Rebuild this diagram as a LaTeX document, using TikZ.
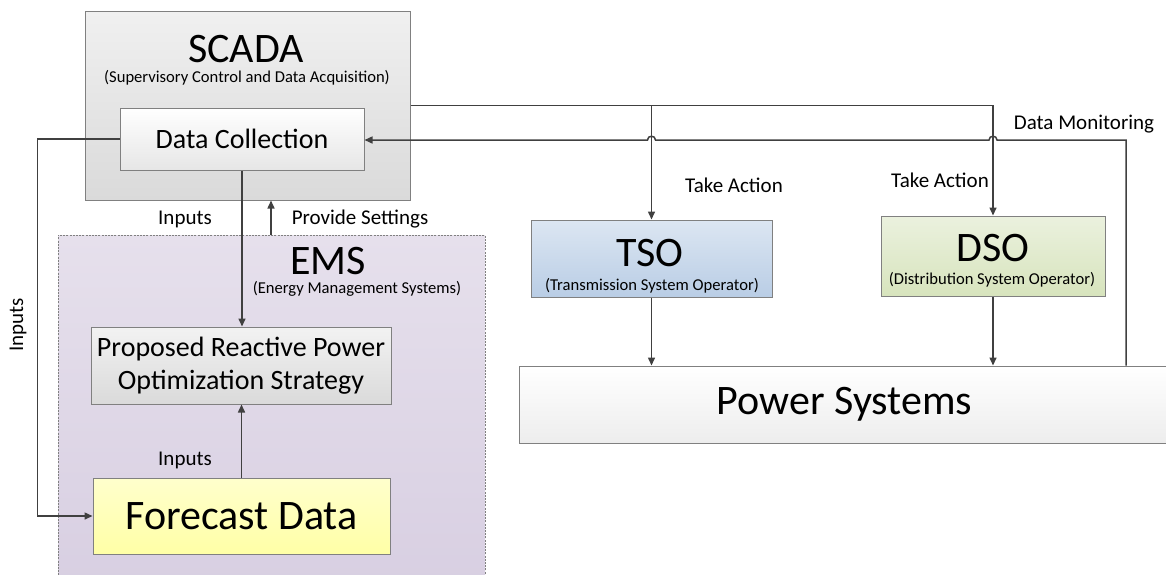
\documentclass[tikz,border=0pt]{standalone}
\usepackage{fontspec}
\setmainfont{Carlito}
\usetikzlibrary{arrows.meta,positioning,calc}

\definecolor{linegray}{HTML}{404040}
\definecolor{boxgray}{HTML}{808080}
\definecolor{scadatop}{HTML}{F0F0F0}
\definecolor{scadabot}{HTML}{DADADA}
\definecolor{dcbot}{HTML}{E6E6E6}
\definecolor{emstop}{HTML}{E6E0EC}
\definecolor{emsbot}{HTML}{D8CFE2}
\definecolor{proptop}{HTML}{F2F2F2}
\definecolor{propbot}{HTML}{DADADA}
\definecolor{fctop}{HTML}{FFFFCC}
\definecolor{fcbot}{HTML}{FFFFA6}
\definecolor{tsotop}{HTML}{DCE6F2}
\definecolor{tsobot}{HTML}{B9CDE5}
\definecolor{dsotop}{HTML}{EBF1DE}
\definecolor{dsobot}{HTML}{D7E4BD}
\definecolor{psbot}{HTML}{EDEDED}

\begin{document}
\begin{tikzpicture}[
    x=0.5pt, y=-0.5pt,
    box/.style={draw=boxgray, line width=0.5pt, inner sep=0pt},
    arr/.style={-{Triangle[length=4pt,width=3.5pt]}, draw=linegray, line width=0.75pt},
    lbl/.style={font=\fontsize{10.5}{12}\selectfont, inner sep=0pt, anchor=base},
    title/.style={font=\fontsize{21}{24}\selectfont, inner sep=0pt, anchor=base},
    sub/.style={font=\fontsize{8.3}{9}\selectfont, inner sep=0pt, anchor=base},
    mid/.style={font=\fontsize{14}{16.5}\selectfont, align=center},
    big/.style={font=\fontsize{21}{24}\selectfont},
  ]
  \useasboundingbox (0,0) rectangle (1166,574);

  % SCADA block
  \node[box, top color=scadatop, bottom color=scadabot, minimum width=162.5pt, minimum height=94.5pt] (scada) at (247.5,105.5) {};
  \node[title] (scadat) at (246,62) {SCADA};
  \node[sub] (scadas) at (247,82) {(Supervisory Control and Data Acquisition)};
  \node[box, mid, top color=white, bottom color=dcbot, minimum width=122pt, minimum height=31pt] (dc) at (242,139) {Data Collection};

  % EMS block
  \node[box, draw=boxgray, line width=0.4pt, dash pattern=on 1pt off 0.6pt, top color=emstop, bottom color=emsbot, minimum width=213.5pt, minimum height=175pt] (ems) at (271.5,410) {};
  \node[title] (emst) at (328,274) {EMS};
  \node[sub] (emss) at (357,293) {(Energy Management Systems)};
  \node[box, mid, top color=proptop, bottom color=propbot, minimum width=150pt, minimum height=38.5pt] (prop) at (241,365.5) {Proposed Reactive Power\\Optimization Strategy};
  \node[box, big, top color=fctop, bottom color=fcbot, minimum width=148.5pt, minimum height=38pt] (fc) at (241.5,516) {Forecast Data};

  % operators and grid
  \node[box, top color=tsotop, bottom color=tsobot, minimum width=120.5pt, minimum height=38.5pt] (tso) at (651.5,258.5) {};
  \node[title] (tsot) at (650,266) {TSO};
  \node[sub] (tsos) at (652,290) {(Transmission System Operator)};
  \node[box, top color=dsotop, bottom color=dsobot, minimum width=112pt, minimum height=40pt] (dso) at (993,256) {};
  \node[title] (dsot) at (993,261) {DSO};
  \node[sub] (dsos) at (992,284) {(Distribution System Operator)};
  \node[box, big, top color=white, bottom color=psbot, minimum width=325.5pt, minimum height=38.5pt] (ps) at (844.5,404.5) {Power Systems};

  % inputs and settings
  \draw[arr] (dc.south) -- (dc.south |- prop.north);
  \draw[arr] (fc.north) -- (fc.north |- prop.south);
  \draw[arr] (dc.west) -- ++(-82,0) |- (fc.west);
  \coordinate (set) at (271,235);
  \draw[arr] (set) -- (set |- scada.south);

  % actions
  \draw[arr] (scada.east) -| (dso.north);
  \draw[arr] (scada.east -| tso.north) -- (tso.north);
  \draw[arr] (tso.south) -- (tso.south |- ps.north);
  \draw[arr] (dso.south) -- (dso.south |- ps.north);

  % monitoring feedback with line jumps
  \coordinate (mon) at (1126,140);
  \draw[arr] (mon |- ps.north) -- (mon)
    -- ($(mon -| dso.north)+(4,0)$) to[out=90,in=90,looseness=1.6] ($(mon -| dso.north)+(-4,0)$)
    -- ($(mon -| tso.north)+(4,0)$) to[out=90,in=90,looseness=1.6] ($(mon -| tso.north)+(-4,0)$)
    -- (mon -| dc.east);

  % labels
  \node[lbl] (in1) at (185,224) {Inputs};
  \node[lbl] (set1) at (360,224) {Provide Settings};
  \node[lbl] (in2) at (185,465) {Inputs};
  \node[lbl, rotate=90, anchor=center] (in3) at (18,325) {Inputs};
  \node[lbl] (act1) at (734,192) {Take Action};
  \node[lbl] (act2) at (940,187) {Take Action};
  \node[lbl] (mon1) at (1084,129) {Data Monitoring};
\end{tikzpicture}
\end{document}
